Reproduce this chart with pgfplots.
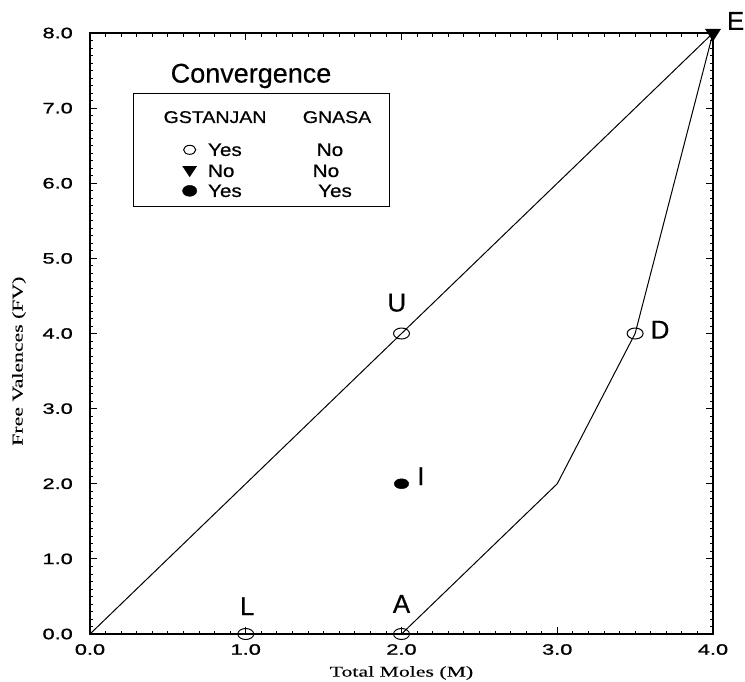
\documentclass[border=0pt]{standalone}
\usepackage{fontspec}
\usepackage{pgfplots}
\pgfplotsset{compat=1.18}
\setmainfont{Liberation Serif}
\newfontfamily\tickfont[FakeStretch=1.45, FakeBold=1.2]{Liberation Sans}
\newfontfamily\legfont[FakeStretch=1.15, FakeBold=0.6]{Liberation Sans}
\newfontfamily\ptfont[FakeBold=0.4]{Liberation Sans}
\newfontfamily\serifwide[FakeStretch=1.45, FakeBold=0.2]{Liberation Serif}
\begin{document}
\begin{tikzpicture}[x=1pt,y=1pt]
\useasboundingbox (-90,-47) rectangle (655,634);
\begin{axis}[
  at={(0,0)}, anchor=south west,
  scale only axis, width=623pt, height=601pt,
  xmin=0, xmax=4, ymin=0, ymax=8,
  xtick={0,1,2,3,4}, ytick={0,1,...,8},
  minor tick num=9,
  tick align=inside,
  major tick length=7pt, minor tick length=3.5pt,
  tick style={black, line width=0.8pt},
  axis line style={line width=1.1pt},
  clip=false,
  xticklabel style={font=\fontsize{15}{15}\selectfont\tickfont, anchor=north, inner sep=0pt, yshift=-10pt},
  yticklabel style={font=\fontsize{15}{15}\selectfont\tickfont, anchor=east, inner sep=0pt, xshift=-17pt},
  /pgf/number format/.cd, fixed, fixed zerofill, precision=1, assume math mode=true,
  /pgfplots/.cd,
  xlabel={Total Moles (M)},
  ylabel={Free Valences (FV)},
  every axis x label/.style={at={(axis description cs:0.5,0)}, anchor=center, yshift=-39pt, font=\fontsize{15}{15}\selectfont\serifwide},
  every axis y label/.style={at={(axis description cs:-0.114,0.454)}, anchor=center, rotate=90, font=\fontsize{15}{15}\selectfont\serifwide},
]
% lines
\addplot[black, line width=1pt] coordinates {(0,0) (4,8)};
\addplot[black, line width=1pt] coordinates {(2,0) (3,2) (3.5,4) (4,8)};
% markers
\addplot[only marks, mark=o, mark size=5.5pt, mark options={xscale=1.45, line width=1pt, black}] coordinates {(1,0) (2,0) (2,4) (3.5,4)};
\addplot[only marks, mark=*, mark size=5pt, mark options={xscale=1.45, black}] coordinates {(2,2)};
\addplot[only marks, mark=triangle*, mark size=8pt, mark options={rotate=180, xscale=1.1, black}] coordinates {(4,8)};
% point labels
\node[font=\fontsize{26}{26}\selectfont\ptfont] at (axis cs:1.01,0.37) {L};
\node[font=\fontsize{26}{26}\selectfont\ptfont] at (axis cs:2.0,0.40) {A};
\node[font=\fontsize{26}{26}\selectfont\ptfont] at (axis cs:1.97,4.41) {U};
\node[font=\fontsize{26}{26}\selectfont\ptfont] at (axis cs:3.66,4.05) {D};
\node[font=\fontsize{26}{26}\selectfont\ptfont] at (axis cs:2.125,2.10) {I};
\node[font=\fontsize{26}{26}\selectfont\ptfont] at (axis cs:4.145,8.16) {E};
% legend
\node[font=\fontsize{27}{27}\selectfont\ptfont, anchor=base] at (axis cs:1.034,7.34) {Convergence};
\draw[line width=0.9pt] (axis cs:0.276,7.19) rectangle (axis cs:1.92,5.686);
\node[font=\fontsize{17}{17}\selectfont\legfont] at (axis cs:0.803,6.88) {GSTANJAN};
\node[font=\fontsize{17}{17}\selectfont\legfont] at (axis cs:1.586,6.88) {GNASA};
\addplot[only marks, mark=o, mark size=4.5pt, mark options={xscale=1.35, line width=1pt, black}] coordinates {(0.64,6.445)};
\addplot[only marks, mark=triangle*, mark size=7pt, mark options={rotate=180, xscale=1.15, black}] coordinates {(0.64,6.18)};
\addplot[only marks, mark=*, mark size=5.5pt, mark options={xscale=1.3, black}] coordinates {(0.64,5.899)};
\node[font=\fontsize{18}{18}\selectfont\legfont, anchor=west] at (axis cs:0.735,6.445) {Yes};
\node[font=\fontsize{18}{18}\selectfont\legfont, anchor=west] at (axis cs:0.735,6.165) {No};
\node[font=\fontsize{18}{18}\selectfont\legfont, anchor=west] at (axis cs:0.735,5.899) {Yes};
\node[font=\fontsize{18}{18}\selectfont\legfont] at (axis cs:1.541,6.445) {No};
\node[font=\fontsize{18}{18}\selectfont\legfont] at (axis cs:1.515,6.165) {No};
\node[font=\fontsize{18}{18}\selectfont\legfont] at (axis cs:1.573,5.899) {Yes};
\end{axis}
\end{tikzpicture}
\end{document}
